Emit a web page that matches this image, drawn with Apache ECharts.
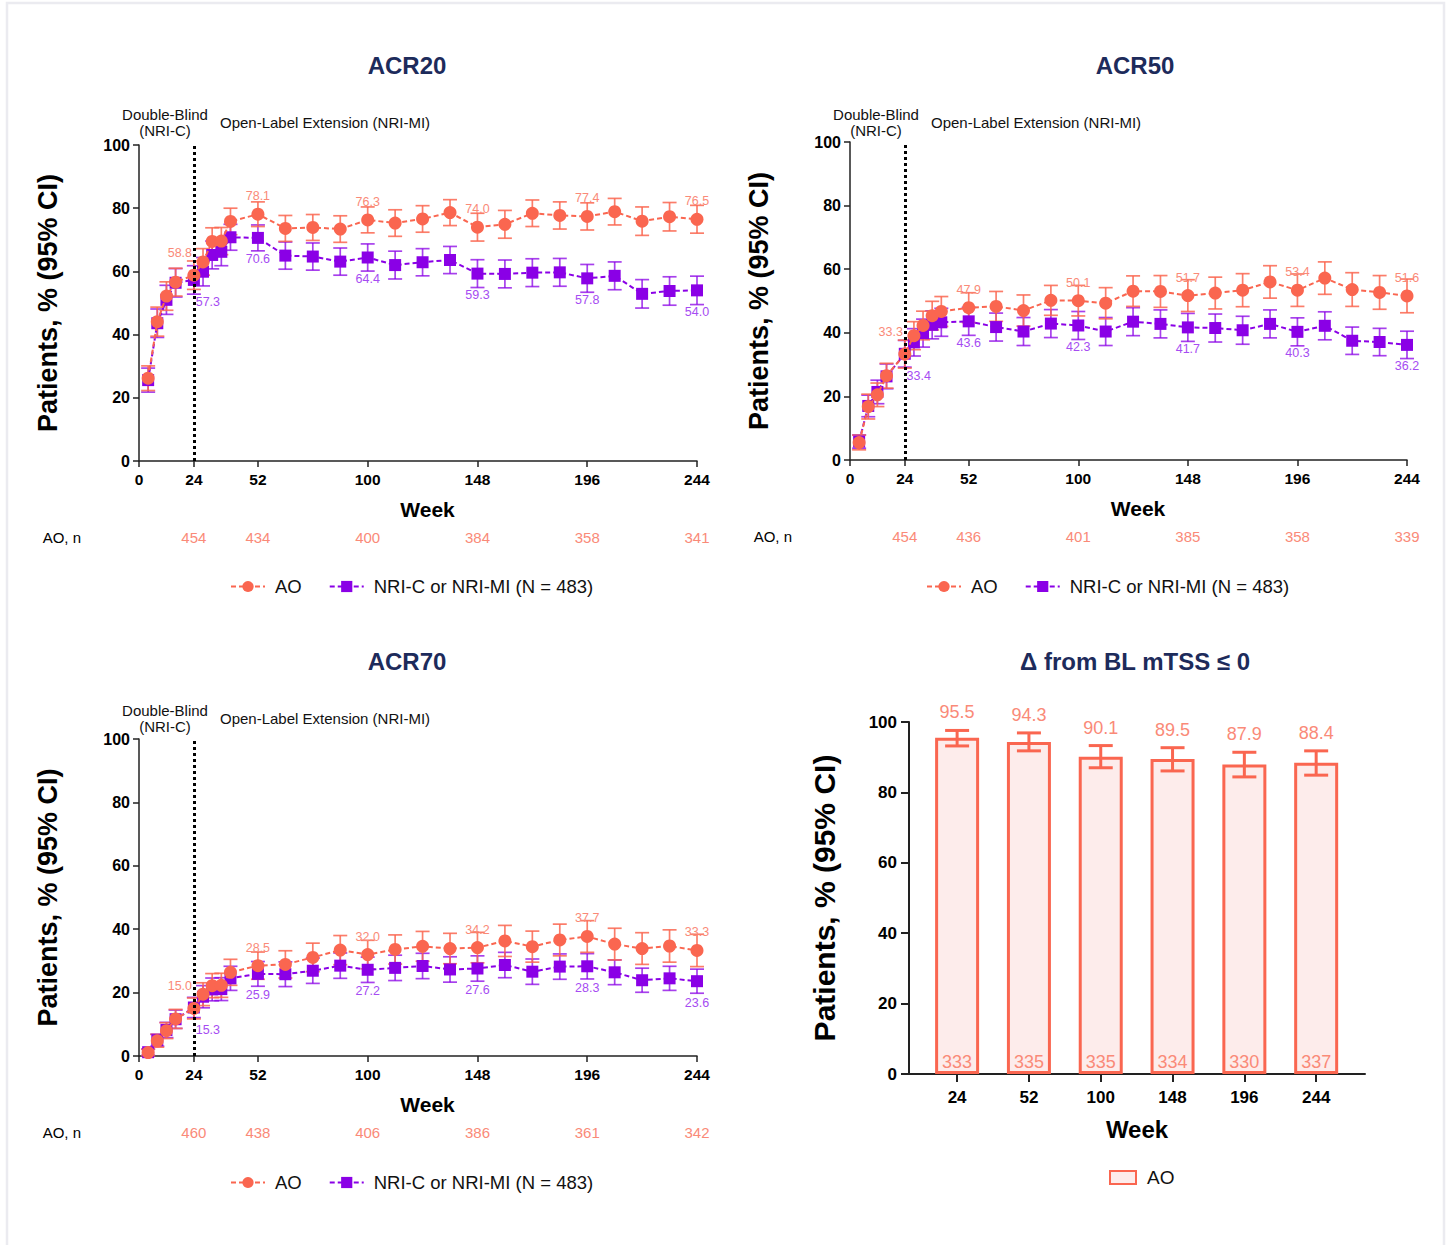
<!DOCTYPE html>
<html>
<head>
<meta charset="utf-8">
<script src="https://cdn.jsdelivr.net/npm/echarts@6/dist/echarts.min.js"></script>
<style>
  html, body { margin: 0; padding: 0; background: #fff; }
  #main { width: 1447px; height: 1245px; }
</style>
</head>
<body>
<div id="main"></div>
<script>
// study weeks with an assessment
const weeks = [4, 8, 12, 16, 24, 28, 32, 36, 40, 52, 64, 76, 88, 100, 112, 124, 136, 148, 160, 172, 184, 196, 208, 220, 232, 244];
const xTicks = [0, 24, 52, 100, 148, 196, 244];
const labelWeeks = [24, 52, 100, 148, 196, 244];

// ACR20
const acr20AO = [26.2, 44.1, 52.2, 56.6, 58.8, 63.0, 69.5, 69.6, 75.8, 78.1, 73.6, 73.9, 73.4, 76.3, 75.3, 76.6, 78.6, 74.0, 74.9, 78.4, 77.7, 77.4, 78.9, 75.9, 77.3, 76.5];
const acr20AOci = [3.9, 4.6, 4.5, 4.4, 4.5, 4.2, 4.3, 4.3, 4.2, 3.9, 4.1, 4.1, 4.2, 4.1, 4.2, 4.2, 4.1, 4.4, 4.4, 4.2, 4.3, 4.3, 4.2, 4.5, 4.5, 4.4];
const acr20NRI = [25.6, 43.6, 51.0, 56.4, 57.3, 59.9, 65.2, 66.2, 70.8, 70.6, 65.0, 64.7, 63.1, 64.4, 62.0, 62.9, 63.6, 59.3, 59.2, 59.6, 59.7, 57.8, 58.6, 52.9, 53.8, 54.0];
const acr20NRIci = [3.8, 4.5, 4.6, 4.5, 4.5, 4.5, 4.4, 4.4, 4.1, 4.1, 4.3, 4.3, 4.3, 4.3, 4.4, 4.3, 4.3, 4.4, 4.4, 4.4, 4.4, 4.4, 4.4, 4.5, 4.5, 4.5];
const acr20N = [454, 434, 400, 384, 358, 341];

// ACR50
const acr50AO = [5.5, 16.8, 20.5, 26.5, 33.3, 39.1, 42.3, 45.4, 46.7, 47.9, 48.3, 47.0, 50.2, 50.1, 49.3, 53.1, 53.0, 51.7, 52.5, 53.4, 56.0, 53.4, 57.2, 53.6, 52.7, 51.6];
const acr50AOci = [2.3, 3.9, 3.7, 3.9, 4.4, 4.4, 4.5, 4.5, 4.7, 4.7, 4.7, 4.9, 4.7, 4.8, 4.9, 4.8, 5.0, 5.0, 5.0, 5.2, 5.1, 5.1, 5.1, 5.3, 5.3, 5.3];
const acr50NRI = [5.8, 17.0, 21.4, 26.3, 33.4, 37.0, 39.9, 42.5, 43.3, 43.6, 41.8, 40.4, 42.9, 42.3, 40.4, 43.5, 42.8, 41.7, 41.5, 40.8, 42.8, 40.3, 42.2, 37.5, 37.1, 36.2];
const acr50NRIci = [2.1, 3.4, 3.7, 3.9, 4.2, 4.3, 4.4, 4.4, 4.4, 4.4, 4.4, 4.4, 4.4, 4.4, 4.4, 4.4, 4.4, 4.4, 4.4, 4.4, 4.4, 4.4, 4.4, 4.3, 4.3, 4.3];
const acr50N = [454, 436, 401, 385, 358, 339];

// ACR70
const acr70AO = [1.1, 4.8, 8.0, 11.7, 15.0, 19.5, 22.2, 22.3, 26.4, 28.5, 28.9, 31.1, 33.4, 32.0, 33.6, 34.6, 33.9, 34.2, 36.3, 34.5, 36.6, 37.7, 35.3, 33.9, 34.7, 33.3];
const acr70AOci = [1.0, 2.0, 2.5, 3.0, 3.3, 3.6, 3.8, 3.8, 4.1, 4.3, 4.3, 4.5, 4.6, 4.5, 4.6, 4.7, 4.8, 4.8, 4.9, 4.9, 5.0, 5.0, 5.0, 5.0, 5.1, 5.1];
const acr70NRI = [1.2, 5.0, 8.2, 11.6, 15.3, 18.7, 21.0, 21.1, 24.5, 25.9, 25.8, 26.9, 28.5, 27.2, 27.8, 28.4, 27.3, 27.6, 28.7, 26.6, 28.2, 28.3, 26.4, 23.9, 24.5, 23.6];
const acr70NRIci = [1.0, 1.9, 2.4, 2.9, 3.2, 3.5, 3.6, 3.6, 3.8, 3.9, 3.9, 4.0, 4.0, 4.0, 4.0, 4.0, 4.0, 4.0, 4.0, 4.0, 4.0, 4.0, 3.9, 3.8, 3.8, 3.8];
const acr70N = [460, 438, 406, 386, 361, 342];

// mTSS change <= 0 (AO)
const barWeeks = ['24', '52', '100', '148', '196', '244'];
const barValues = [95.5, 94.3, 90.1, 89.5, 87.9, 88.4];
const barLow = [93.2, 91.8, 87.0, 86.1, 84.4, 84.9];
const barHigh = [97.6, 96.9, 93.3, 92.7, 91.4, 91.8];
const barN = [333, 335, 335, 334, 330, 337];

const AO_COLOR = '#fa6650';
const AO_LABEL = '#fa8a78';
const NRI_COLOR = '#8a00e6';
const NRI_LABEL = '#a64cf2';
const FONT = "'Liberation Sans', Arial, sans-serif";
const NRI_NAME = 'NRI-C or NRI-MI (N = 483)';
const AXIS_LINE = { lineStyle: { color: '#222', width: 1.5 } };

const panels = [
  { title: 'ACR20', ao: acr20AO, aoCi: acr20AOci, nri: acr20NRI, nriCi: acr20NRIci, n: acr20N,
    grid: { left: 139, top: 145, width: 558, height: 316 }, titleX: 407, titleY: 65, noteY: 122, legendLeft: 225, legendTop: 572 },
  { title: 'ACR50', ao: acr50AO, aoCi: acr50AOci, nri: acr50NRI, nriCi: acr50NRIci, n: acr50N,
    grid: { left: 850, top: 142, width: 557, height: 318 }, titleX: 1135, titleY: 65, noteY: 122, legendLeft: 921, legendTop: 572 },
  { title: 'ACR70', ao: acr70AO, aoCi: acr70AOci, nri: acr70NRI, nriCi: acr70NRIci, n: acr70N,
    grid: { left: 139, top: 739, width: 558, height: 317 }, titleX: 407, titleY: 661, noteY: 718, legendLeft: 225, legendTop: 1168 }
];

function errorBars(name, vals, ci, color, gi, capHalf, width) {
  return {
    type: 'custom', name: name, xAxisIndex: gi * 2, yAxisIndex: gi, silent: true, z: 2,
    data: vals.map((v, i) => [weeks[i], v - ci[i], v + ci[i]]),
    encode: { x: 0, y: [1, 2] },
    renderItem: function (params, api) {
      const lo = api.coord([api.value(0), api.value(1)]);
      const hi = api.coord([api.value(0), api.value(2)]);
      const style = { stroke: color, lineWidth: width };
      return { type: 'group', children: [
        { type: 'line', shape: { x1: lo[0], y1: lo[1], x2: hi[0], y2: hi[1] }, style: style },
        { type: 'line', shape: { x1: lo[0] - capHalf, y1: lo[1], x2: lo[0] + capHalf, y2: lo[1] }, style: style },
        { type: 'line', shape: { x1: hi[0] - capHalf, y1: hi[1], x2: hi[0] + capHalf, y2: hi[1] }, style: style }
      ] };
    }
  };
}

function lineData(vals, isAO) {
  return vals.map((v, i) => {
    const w = weeks[i];
    const item = { value: [w, v] };
    if (labelWeeks.indexOf(w) >= 0) {
      if (isAO) {
        item.label = { show: true, position: 'top', distance: 5, offset: w === 24 ? [-14, -4] : [0, 0] };
      } else {
        item.label = { show: true, position: 'bottom', distance: 9, offset: w === 24 ? [14, 1] : [0, 0] };
      }
    }
    return item;
  });
}

const grid = [], xAxis = [], yAxis = [], series = [], legend = [], graphic = [];

graphic.push({ type: 'rect', silent: true, z: -10, shape: { x: 7, y: 3, width: 1437, height: 1270 },
  style: { fill: 'none', stroke: '#ebebf0', lineWidth: 2.5 } });

panels.forEach((p, gi) => {
  grid.push(p.grid);
  xAxis.push({
    gridIndex: gi, type: 'value', min: 0, max: 244,
    axisLine: AXIS_LINE, splitLine: { show: false },
    axisTick: { customValues: xTicks, length: 6, lineStyle: { color: '#222', width: 1.5 } },
    axisLabel: { customValues: xTicks, fontFamily: FONT, fontWeight: 'bold', fontSize: 15.5, color: '#000', margin: 10 },
    name: 'Week', nameLocation: 'middle', nameGap: 38,
    nameTextStyle: { fontFamily: FONT, fontWeight: 'bold', fontSize: 21, color: '#000', padding: [0, 0, 0, 19] }
  });
  xAxis.push({
    gridIndex: gi, type: 'value', min: 0, max: 244, position: 'bottom', offset: 69,
    axisLine: { show: false }, axisTick: { show: false }, splitLine: { show: false },
    axisLabel: { customValues: labelWeeks, margin: 0, fontFamily: FONT, fontSize: 15, color: AO_LABEL,
      formatter: v => String(p.n[labelWeeks.indexOf(v)]) },
    name: 'AO, n', nameLocation: 'start', nameGap: 58,
    nameTextStyle: { fontFamily: FONT, fontSize: 15, color: '#000', verticalAlign: 'top' }
  });
  yAxis.push({
    gridIndex: gi, type: 'value', min: 0, max: 100, interval: 20,
    axisLine: { show: true, lineStyle: { color: '#222', width: 1.5 } },
    axisTick: { show: true, length: 6, lineStyle: { color: '#222', width: 1.5 } },
    axisLabel: { fontFamily: FONT, fontWeight: 'bold', fontSize: 16, color: '#000', margin: 9 },
    splitLine: { show: false },
    name: 'Patients, % (95% CI)', nameLocation: 'middle', nameGap: 78,
    nameTextStyle: { fontFamily: FONT, fontWeight: 'bold', fontSize: 27, color: '#000' }
  });

  series.push({
    type: 'line', name: 'AO', xAxisIndex: gi * 2, yAxisIndex: gi, z: 4,
    data: lineData(p.ao, true),
    symbol: 'circle', symbolSize: 13,
    itemStyle: { color: AO_COLOR },
    lineStyle: { color: AO_COLOR, width: 2, type: [5, 3] },
    label: { color: AO_LABEL, fontFamily: FONT, fontSize: 12.5, formatter: d => d.value[1].toFixed(1) },
    markLine: {
      silent: true, symbol: ['none', 'none'], label: { show: false },
      lineStyle: { color: '#000', width: 3, type: 'dotted' },
      data: [{ xAxis: 24 }]
    }
  });
  series.push({
    type: 'line', name: NRI_NAME, xAxisIndex: gi * 2, yAxisIndex: gi, z: 3,
    data: lineData(p.nri, false),
    symbol: 'rect', symbolSize: 12,
    itemStyle: { color: NRI_COLOR },
    lineStyle: { color: NRI_COLOR, width: 2, type: [5, 3] },
    label: { color: NRI_LABEL, fontFamily: FONT, fontSize: 12.5, formatter: d => d.value[1].toFixed(1) }
  });
  series.push(errorBars('NRI CI ' + gi, p.nri, p.nriCi, 'rgba(138,0,230,0.75)', gi, 7, 1.7));
  series.push(errorBars('AO CI ' + gi, p.ao, p.aoCi, 'rgba(250,102,80,0.85)', gi, 7, 1.7));

  legend.push({
    data: ['AO', NRI_NAME], left: p.legendLeft, top: p.legendTop,
    itemWidth: 34, itemHeight: 14, itemGap: 27, selectedMode: false,
    textStyle: { fontFamily: FONT, fontSize: 18.5, color: '#111', padding: [0, 0, 0, 5] }
  });

  graphic.push({ type: 'text', silent: true, x: p.titleX, y: p.titleY,
    style: { text: p.title, fill: '#1d2b5b', font: 'bold 24px ' + FONT, align: 'center', verticalAlign: 'middle',
      textAlign: 'center', textVerticalAlign: 'middle' } });
  const gx = p.grid.left;
  graphic.push({ type: 'text', silent: true, x: gx + 26, y: p.noteY,
    style: { text: 'Double-Blind\n(NRI-C)', fill: '#111', font: '15px ' + FONT, lineHeight: 16,
      align: 'center', verticalAlign: 'middle', textAlign: 'center', textVerticalAlign: 'middle' } });
  graphic.push({ type: 'text', silent: true, x: gx + 81, y: p.noteY,
    style: { text: 'Open-Label Extension (NRI-MI)', fill: '#111', font: '15px ' + FONT,
      align: 'left', verticalAlign: 'middle', textAlign: 'left', textVerticalAlign: 'middle' } });
});

// bar panel: evenly spaced week slots inside the axis
const barPos = barWeeks.map((w, i) => i + 0.67);
grid.push({ left: 909, top: 722, width: 456, height: 352 });
xAxis.push({
  gridIndex: 3, type: 'value', min: 0, max: 6.35,
  axisLine: { lineStyle: { color: '#222', width: 2 } }, splitLine: { show: false },
  axisTick: { customValues: barPos, length: 8, lineStyle: { color: '#222', width: 2 } },
  axisLabel: { customValues: barPos, fontFamily: FONT, fontWeight: 'bold', fontSize: 17, color: '#000', margin: 15,
    formatter: v => barWeeks[Math.round(v - 0.67)] },
  name: 'Week', nameLocation: 'middle', nameGap: 43,
  nameTextStyle: { fontFamily: FONT, fontWeight: 'bold', fontSize: 24, color: '#000' }
});
yAxis.push({
  gridIndex: 3, type: 'value', min: 0, max: 100, interval: 20,
  axisLine: { show: true, lineStyle: { color: '#222', width: 2 } },
  axisTick: { show: true, length: 8, lineStyle: { color: '#222', width: 2 } },
  axisLabel: { fontFamily: FONT, fontWeight: 'bold', fontSize: 17, color: '#000', margin: 12 },
  splitLine: { show: false },
  name: 'Patients, % (95% CI)', nameLocation: 'middle', nameGap: 70,
  nameTextStyle: { fontFamily: FONT, fontWeight: 'bold', fontSize: 30, color: '#000' }
});
series.push({
  type: 'bar', name: 'AO bar', xAxisIndex: 6, yAxisIndex: 3, barWidth: 44,
  data: barPos.map((x, i) => [x, barValues[i]]),
  itemStyle: { color: '#fdeceb', borderColor: AO_COLOR, borderWidth: 3 },
  label: { show: true, position: 'insideBottom', distance: 3, fontFamily: FONT, fontSize: 18, color: AO_LABEL,
    formatter: d => String(barN[d.dataIndex]) }
});
series.push({
  type: 'custom', name: 'AO bar CI', xAxisIndex: 6, yAxisIndex: 3, silent: true, z: 5,
  data: barPos.map((x, i) => [x, barLow[i], barHigh[i], barValues[i]]),
  encode: { x: 0, y: [1, 2] },
  renderItem: function (params, api) {
    const lo = api.coord([api.value(0), api.value(1)]);
    const hi = api.coord([api.value(0), api.value(2)]);
    const style = { stroke: AO_COLOR, lineWidth: 3 };
    const cap = 12;
    return { type: 'group', children: [
      { type: 'line', shape: { x1: lo[0], y1: lo[1], x2: hi[0], y2: hi[1] }, style: style },
      { type: 'line', shape: { x1: lo[0] - cap, y1: lo[1], x2: lo[0] + cap, y2: lo[1] }, style: style },
      { type: 'line', shape: { x1: hi[0] - cap, y1: hi[1], x2: hi[0] + cap, y2: hi[1] }, style: style },
      { type: 'text', x: hi[0], y: hi[1] - 18,
        style: { text: api.value(3).toFixed(1), fill: AO_LABEL, font: '18px ' + FONT,
          align: 'center', verticalAlign: 'middle', textAlign: 'center', textVerticalAlign: 'middle' } }
    ] };
  }
});
legend.push({
  data: ['AO bar'], formatter: () => 'AO', left: 1104, top: 1163, icon: 'rect',
  itemWidth: 26, itemHeight: 13, selectedMode: false,
  textStyle: { fontFamily: FONT, fontSize: 19, color: '#111', padding: [0, 0, 0, 6] }
});
graphic.push({ type: 'text', silent: true, x: 1135, y: 661,
  style: { text: 'Δ from BL mTSS ≤ 0', fill: '#1d2b5b', font: 'bold 24px ' + FONT, align: 'center', verticalAlign: 'middle',
    textAlign: 'center', textVerticalAlign: 'middle' } });

const chart = echarts.init(document.getElementById('main'), null, { renderer: 'svg' });
chart.setOption({
  animation: false,
  backgroundColor: '#fff',
  textStyle: { fontFamily: FONT },
  grid: grid, xAxis: xAxis, yAxis: yAxis, legend: legend, graphic: graphic, series: series
});
</script>
</body>
</html>
